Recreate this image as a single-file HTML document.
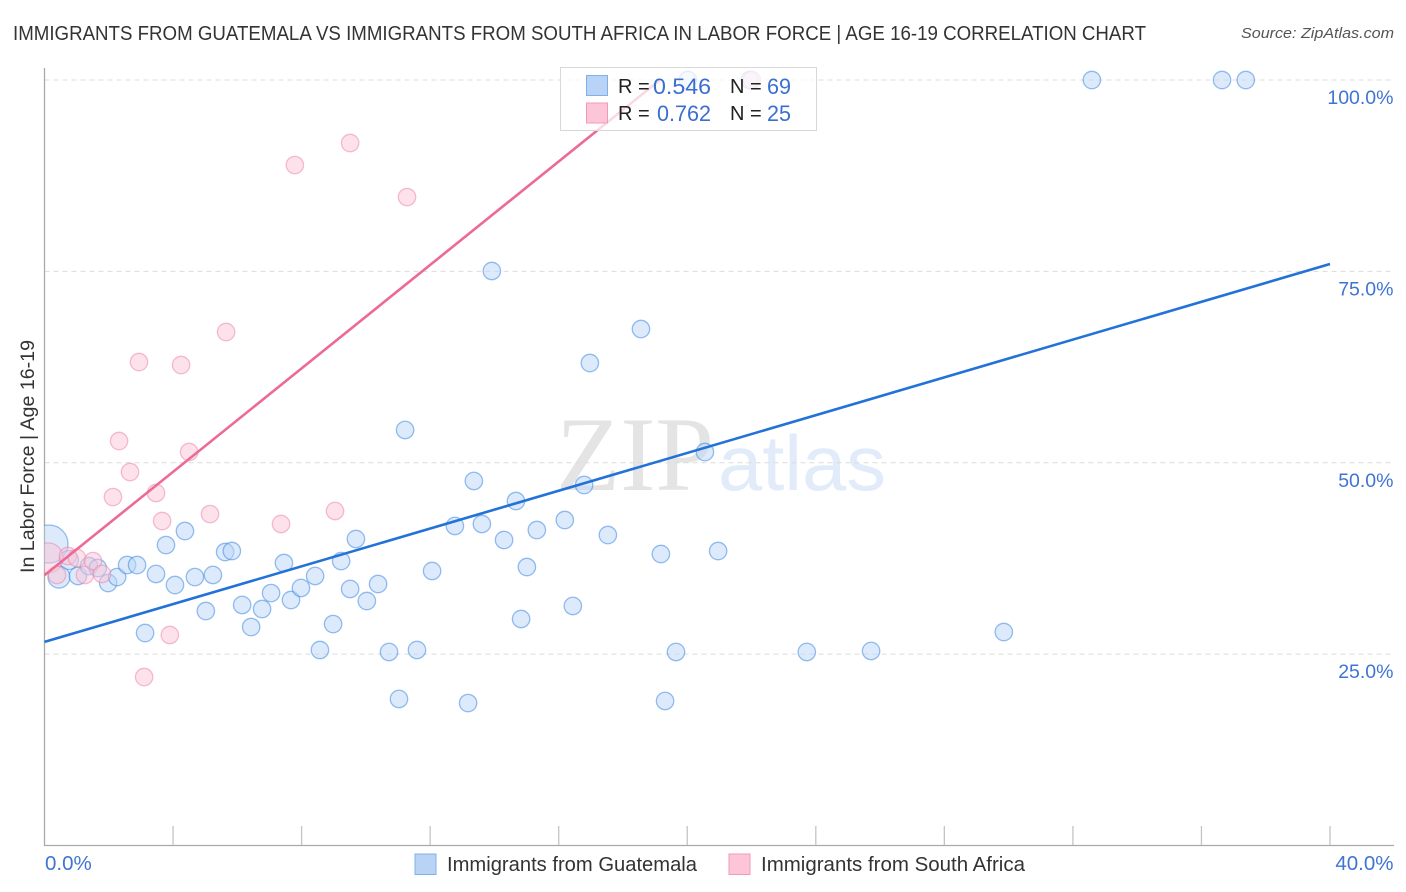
<!DOCTYPE html>
<html lang="en">
<head>
<meta charset="utf-8">
<title>Immigrants from Guatemala vs Immigrants from South Africa in Labor Force | Age 16-19 Correlation Chart</title>
<style>
html,body{margin:0;padding:0;background:#fff;width:1406px;height:892px;overflow:hidden}
svg{display:block;font-family:"Liberation Sans",sans-serif}
</style>
</head>
<body>
<svg id="chart" xmlns="http://www.w3.org/2000/svg" width="1406" height="892" viewBox="0 0 1406 892">
  <defs><clipPath id="plot-clip"><rect x="44.5" y="50" width="1350" height="796"/></clipPath></defs>
  <text x="13" y="40" font-size="20" fill="#333" textLength="1133" lengthAdjust="spacingAndGlyphs">IMMIGRANTS FROM GUATEMALA VS IMMIGRANTS FROM SOUTH AFRICA IN LABOR FORCE | AGE 16-19 CORRELATION CHART</text>
  <text x="1394" y="38" font-size="15" font-style="italic" fill="#555" text-anchor="end" textLength="153" lengthAdjust="spacingAndGlyphs">Source: ZipAtlas.com</text>
  <g>
    <text x="556" y="490" font-family="'Liberation Serif',serif" font-size="106" fill="#e4e4e4" textLength="158" lengthAdjust="spacingAndGlyphs">ZIP</text>
    <text x="718" y="490" font-size="78" fill="#e2ebf9" textLength="168" lengthAdjust="spacingAndGlyphs">atlas</text>
  </g>
  <g id="grid"></g>
  <g id="axes"></g>
  <g id="marks" clip-path="url(#plot-clip)"></g>
  <g id="trends"></g>
  <g id="labels"></g>
  <text transform="translate(34,573) rotate(-90)" font-size="19" fill="#333" textLength="233" lengthAdjust="spacingAndGlyphs">In Labor Force | Age 16-19</text>

  <g>
    <rect x="560.5" y="67.5" width="256" height="63" fill="#fff" fill-opacity="0.75" stroke="#d8d8d8" stroke-width="1"/>
    <rect x="586.5" y="75.5" width="21" height="20" fill="#b9d3f6" stroke="#7fb0ea"/>
    <rect x="586.5" y="103" width="21" height="20" fill="#fcc6d8" stroke="#f09ab8"/>
    <g font-size="20" fill="#222">
      <text x="618" y="93">R =</text>
      <text x="653" y="94" fill="#3a6fd0" font-size="22" textLength="58" lengthAdjust="spacingAndGlyphs">0.546</text>
      <text x="730" y="93">N =</text>
      <text x="767" y="94" fill="#3a6fd0" font-size="22" textLength="24" lengthAdjust="spacingAndGlyphs">69</text>
      <text x="618" y="120">R =</text>
      <text x="657" y="121" fill="#3a6fd0" font-size="22" textLength="54" lengthAdjust="spacingAndGlyphs">0.762</text>
      <text x="730" y="120">N =</text>
      <text x="767" y="121" fill="#3a6fd0" font-size="22" textLength="24" lengthAdjust="spacingAndGlyphs">25</text>
    </g>
  </g>

  <g>
    <rect x="415" y="854" width="21" height="20.5" fill="#b9d3f6" stroke="#7fb0ea"/>
    <text x="447" y="871" font-size="20" fill="#333" textLength="250" lengthAdjust="spacingAndGlyphs">Immigrants from Guatemala</text>
    <rect x="729" y="854" width="21" height="20.5" fill="#fcc6d8" stroke="#f09ab8"/>
    <text x="761" y="871" font-size="20" fill="#333" textLength="264" lengthAdjust="spacingAndGlyphs">Immigrants from South Africa</text>
  </g>
</svg>
<script>
const xTickValues = [0, 4, 8, 12, 16, 20, 24, 28, 32, 36, 40];
const xTickLabels = ["0.0%", "40.0%"];
const yGridValues = [25, 50, 75, 100];
const yTickLabels = ["25.0%", "50.0%", "75.0%", "100.0%"];

const guatemalaX = [0.14,0.45,0.76,1.04,1.38,1.66,1.98,2.26,2.57,2.88,3.47,3.78,4.37,4.06,4.68,5.24,5.62,5.83,3.13,5.02,6.15,6.77,7.05,6.43,7.67,7.45,7.98,8.42,8.57,8.98,9.23,9.51,9.69,10.03,10.38,10.72,11.03,11.59,12.06,11.22,12.77,13.18,13.36,13.61,13.92,14.30,14.67,14.83,15.01,15.32,16.19,16.44,16.79,16.97,17.53,18.56,19.18,19.31,19.65,20.55,20.96,23.72,25.72,29.85,32.59,36.64,37.38,20.02,21.95];
const guatemalaY = [39.39,35.07,37.30,35.21,36.51,36.25,34.29,35.07,36.64,36.64,35.47,39.25,41.08,34.03,35.07,35.34,38.34,38.47,27.76,30.63,31.42,30.89,32.98,28.54,32.07,36.90,33.64,35.21,25.54,28.93,37.16,33.51,40.04,31.94,34.16,25.28,19.14,25.54,35.86,54.28,41.74,18.61,47.62,42.00,75.05,39.91,45.00,29.59,36.38,41.21,42.52,31.29,47.09,63.03,40.56,67.47,38.08,18.88,25.28,51.40,38.47,25.28,25.41,27.89,100,100,100,100,100];
const guatemalaWeights = [4.77,1.6,1.2];

const southAfricaX = [0.11,0.39,0.73,1.01,1.26,1.51,1.79,2.13,2.32,2.66,2.94,3.47,3.66,3.90,3.10,4.25,4.50,5.15,5.65,7.36,7.79,9.04,9.51,11.28,22.01];
const southAfricaY = [37.56,35.34,37.82,37.56,35.34,37.16,35.47,45.52,52.84,48.79,63.16,46.05,42.39,27.50,22.01,62.77,51.40,43.30,67.08,42.00,88.89,43.70,91.77,84.71,100];
const southAfricaWeights = [3.0];

const guatemalaTrendX = [0, 40];
const guatemalaTrendY = [26.6, 75.96];
const southAfricaTrendX = [0, 19.15];
const southAfricaTrendY = [35.3, 100];

const NS = 'http://www.w3.org/2000/svg';
function xScale(v) { return 44.5 + (v / 40) * 1285.5; }
function yScale(v) { return 845.5 - (v / 100) * 765.5; }
function make(tag, attrs, parent) {
  const el = document.createElementNS(NS, tag);
  for (const k in attrs) el.setAttribute(k, attrs[k]);
  parent.appendChild(el);
  return el;
}
const grid = document.getElementById('grid');
const axes = document.getElementById('axes');
const marks = document.getElementById('marks');
const trends = document.getElementById('trends');
const labels = document.getElementById('labels');

yGridValues.forEach(function (v, i) {
  const line = make('line', {x1: 44.5, x2: 1393, y1: yScale(v), y2: yScale(v), stroke: '#dcdcdc', 'stroke-width': 1, 'stroke-dasharray': '5 4'}, grid);
  
  
  const t = make('text', {x: 1393.5, y: yScale(v) + 24, 'text-anchor': 'end', 'font-size': 19.5, fill: '#3f74d4'}, labels);
  
  
  t.textContent = yTickLabels[i];
});

const yAxis = make('line', {x1: 44.5, x2: 44.5, y1: 68, y2: 846, stroke: '#aaaaaa', 'stroke-width': 1.3}, axes);


const xAxis = make('line', {x1: 44, x2: 1394, y1: 845.5, y2: 845.5, stroke: '#aaaaaa', 'stroke-width': 1.3}, axes);


xTickValues.slice(1).forEach(function (v) {
  const tick = make('line', {x1: xScale(v), x2: xScale(v), y1: 826, y2: 845, stroke: '#c4c4c4', 'stroke-width': 1.3}, axes);
  
  
});

const xStart = make('text', {x: 45, y: 870, 'font-size': 20.5, fill: '#3f74d4'}, labels);


xStart.textContent = xTickLabels[0];
const xEnd = make('text', {x: 1393.5, y: 870, 'text-anchor': 'end', 'font-size': 20.5, fill: '#3f74d4'}, labels);


xEnd.textContent = xTickLabels[1];

function drawSeries(xs, ys, weights, fill, stroke) {
  xs.forEach(function (v, i) {
    const w = weights[i] || 1;
    const c = make('circle', {cx: xScale(v), cy: yScale(ys[i]), r: 8.7 * Math.sqrt(w), fill: fill, 'fill-opacity': 0.52, stroke: stroke, 'stroke-opacity': 0.5, 'stroke-width': 1.3}, marks);
    
    
  });
}
drawSeries(guatemalaX, guatemalaY, guatemalaWeights, '#bcd6f7', '#2f7fe0');
drawSeries(southAfricaX, southAfricaY, southAfricaWeights, '#fcc6d8', '#ec7fa5');

const blueLine = make('line', {x1: xScale(guatemalaTrendX[0]), y1: yScale(guatemalaTrendY[0]), x2: xScale(guatemalaTrendX[1]), y2: yScale(guatemalaTrendY[1]), stroke: '#2272d8', 'stroke-width': 2.6}, trends);


const pinkLine = make('line', {x1: xScale(southAfricaTrendX[0]), y1: yScale(southAfricaTrendY[0]), x2: xScale(southAfricaTrendX[1]), y2: yScale(southAfricaTrendY[1]), stroke: '#ec6a96', 'stroke-width': 2.6}, trends);


</script>
</body>
</html>
